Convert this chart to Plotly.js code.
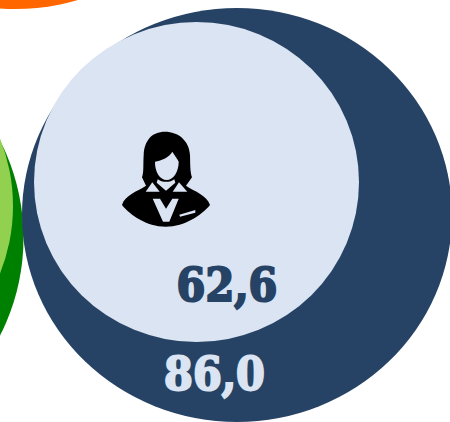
<!DOCTYPE html>
<html><head><meta charset="utf-8">
<script src="https://cdn.plot.ly/plotly-3.0.1.min.js"></script>
<style>html,body{margin:0;padding:0;background:#fff;overflow:hidden}
.textpoint text{stroke-width:2px}
</style></head><body><div id="chart" style="width:450px;height:422px"></div>
<script>
// bubbles, back to front
const bubbleX = [15, -203, -177, 237, 196.5];
const bubbleY = [-216, 238, 206, 215, 182];
const bubbleWidth = [450, 453, 380, 430, 325];
const bubbleHeight = [450, 440, 372, 414, 320];
const bubbleColors = ["#FF6600","#008000","#92D050","#264365","#DAE4F2"];
const labelTexts = ["62,6","86,0"];
const labelX = [227, 214.5];
const labelY = [289, 378];
const labelColors = ["#264365","#DAE4F2"];

// icon outlines, drawn on a 330x345 grid
const iconBlack = [
 "M165 35 C125 35 103 62 101 105 C99 135 102 155 96 172 L108 197 C80 215 45 225 36 255 C60 285 110 320 167 320 C225 320 275 285 300 255 C290 225 255 215 228 197 L246 172 C240 155 241 135 240 105 C238 62 205 35 165 35 Z"
];
const iconLight = [
 "M135 125 C155 122 178 112 187 95 C195 108 203 118 206 125 C206 155 190 180 170 180 C150 180 134 155 135 125 Z",
 "M143 178 C155 188 182 188 193 178 L196 188 L168 212 L140 188 Z",
 "M127 187 L107 215 L149 215 Z",
 "M207 187 L188 215 L232 215 Z",
 "M128 236 L150 236 L168 266 L187 236 L206 236 L178 305 L159 305 Z",
 "M208 284 L256 270 L256 278 L210 290 Z"
];
const toPx = d => d.replace(/(-?[\d.]+) (-?[\d.]+)/g, (m,a,b) => (110+a/3).toFixed(1)+" "+(120+b/3).toFixed(1));
const iconShape = (d,c) => ({type:"path",path:toPx(d),xref:"x",yref:"y",fillcolor:c,line:{width:0},layer:"below"});
const bubbleShapes = bubbleX.map((x,i) => ({type:"circle",xref:"x",yref:"y",
 x0:x-bubbleWidth[i]/2,x1:x+bubbleWidth[i]/2,y0:bubbleY[i]-bubbleHeight[i]/2,y1:bubbleY[i]+bubbleHeight[i]/2,
 fillcolor:bubbleColors[i],line:{width:0},layer:"below"}));

const traces = [
 {type:"scatter",mode:"text",x:labelX,y:labelY,text:labelTexts,textposition:"middle center",hoverinfo:"none",
  textfont:{family:"'DejaVu Serif Condensed','DejaVu Serif',serif",size:46,weight:700,color:labelColors}}
];
const axis = {visible:false,fixedrange:true,showgrid:false,zeroline:false};
const layout = {width:450,height:422,margin:{l:0,r:0,t:0,b:0},showlegend:false,
 paper_bgcolor:"#fff",plot_bgcolor:"rgba(0,0,0,0)",
 xaxis:Object.assign({range:[0,450]},axis),
 yaxis:Object.assign({range:[422,0]},axis),
 shapes:[...bubbleShapes,...iconBlack.map(d=>iconShape(d,"#000000")),...iconLight.map(d=>iconShape(d,"#DAE4F2"))]};
Plotly.newPlot("chart",traces,layout,{displayModeBar:false,staticPlot:true}).then(()=>{
 document.querySelectorAll(".textpoint text").forEach((t,i)=>{t.style.stroke=labelColors[i];});
});
</script></body></html>
